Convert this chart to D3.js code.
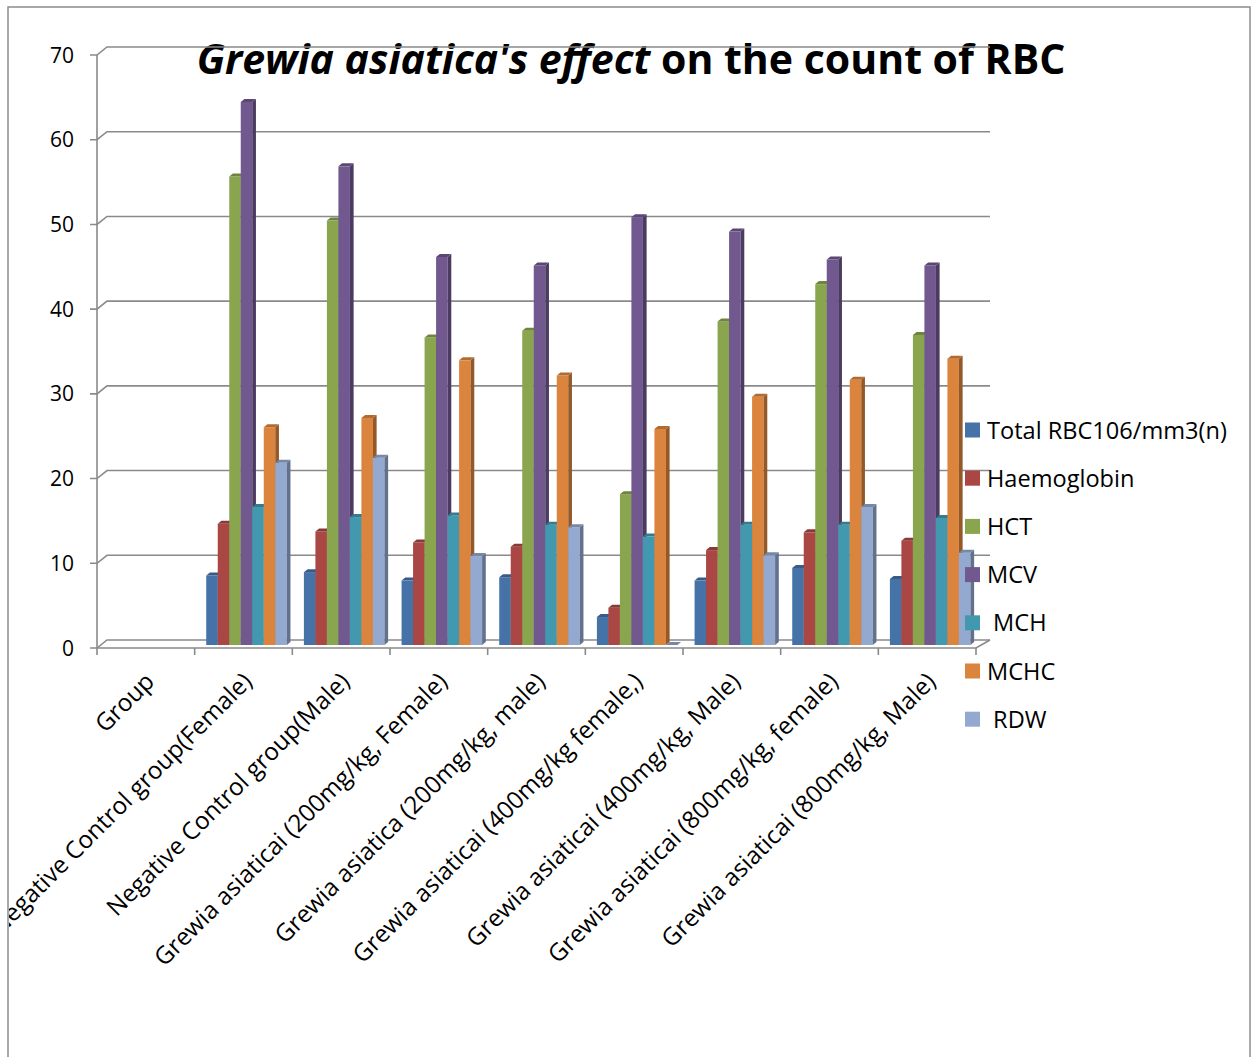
<!DOCTYPE html>
<html>
<head>
<meta charset="utf-8">
<script src="https://cdn.jsdelivr.net/npm/d3@7"></script>
<style>
  html, body { margin: 0; padding: 0; background: #ffffff; }
  svg { display: block; font-family: "Open Sans", Lato, "Liberation Sans", sans-serif; }
</style>
</head>
<body>
<svg id="chart" width="1258" height="1057"></svg>
<script>
// ---- data ----
const categories = [
  "Group",
  "Negative Control group(Female)",
  "Negative Control group(Male)",
  "Grewia asiaticai (200mg/kg, Female)",
  "Grewia asiatica (200mg/kg, male)",
  "Grewia asiaticai (400mg/kg female,)",
  "Grewia asiaticai (400mg/kg, Male)",
  "Grewia asiaticai (800mg/kg, female)",
  "Grewia asiaticai (800mg/kg, Male)"
];
const seriesNames = ["Total RBC106/mm3(n)", "Haemoglobin", "HCT", "MCV", " MCH", "MCHC", " RDW"];
const totalRBC    = [null, 8.2, 8.6, 7.6, 8.0, 3.3, 7.6, 9.1, 7.8];
const haemoglobin = [null, 14.3, 13.4, 12.1, 11.6, 4.4, 11.2, 13.3, 12.3];
const hct         = [null, 55.3, 50.1, 36.3, 37.1, 17.8, 38.2, 42.6, 36.6];
const mcv         = [null, 64.1, 56.5, 45.8, 44.8, 50.5, 48.8, 45.5, 44.8];
const mch         = [null, 16.3, 15.1, 15.3, 14.2, 12.8, 14.2, 14.2, 15.0];
const mchc        = [null, 25.7, 26.8, 33.6, 31.8, 25.5, 29.3, 31.3, 33.8];
const rdw         = [null, 21.5, 22.1, 10.5, 13.9, 0, 10.6, 16.3, 10.9];
const yTicks = [0, 10, 20, 30, 40, 50, 60, 70];
const seriesColors = ["#4572A7", "#AA4643", "#89A54E", "#71588F", "#4198AF", "#DB843D", "#93A9CF"];

const seriesValues = [totalRBC, haemoglobin, hct, mcv, mch, mchc, rdw];

// ---- layout ----
const svg = d3.select("#chart");
const H = 1057;

const x = d3.scaleBand().domain(categories).range([97, 976]);
const y = d3.scaleLinear().domain([0, 70]).range([648, 55]);
const inner = d3.scaleBand().domain(d3.range(seriesNames.length))
  .range([0, x.bandwidth()]).paddingInner(0).paddingOuter(0.745);

// 3D offsets: back wall, bar front plane, bar depth
const wall = { dx: 10, dy: -8 };
const barOff = { dx: 3, dy: -3 };
const depth = { dx: 3.7, dy: -3 };

const gridColor = "#8a8a8a";

// scale a text element's font size so it spans a given width
function fitWidth(sel, target) {
  const w = sel.node().getComputedTextLength();
  const fs = +sel.attr("font-size");
  return fs * target / w;
}

// outer chart frame
svg.append("rect")
  .attr("x", 8).attr("y", 7)
  .attr("width", 1242).attr("height", 1100)
  .attr("fill", "none").attr("stroke", "#8c8c8c").attr("stroke-width", 1.5);

svg.append("defs").append("clipPath").attr("id", "frameClip")
  .append("rect").attr("x", 9).attr("y", 8).attr("width", 1240).attr("height", H);

const root = svg.append("g").attr("clip-path", "url(#frameClip)");

// title
const title = root.append("text")
  .attr("x", 631).attr("y", 74)
  .attr("text-anchor", "middle")
  .attr("font-size", 35).attr("font-weight", "bold").attr("fill", "#000");
title.append("tspan").attr("font-style", "italic").text("Grewia asiatica's effect");
title.append("tspan").text(" on the count of RBC");
title.attr("font-size", fitWidth(title, 869));

// gridlines on the side and back walls, with front ticks
const grid = root.append("g");
grid.selectAll("path.grid").data(yTicks).join("path")
  .attr("class", "grid")
  .attr("d", v => {
    const yy = y(v);
    return `M90,${yy}L${x.range()[0]},${yy}L${x.range()[0] + wall.dx},${yy + wall.dy}L${x.range()[1] + 14},${yy + wall.dy}`;
  })
  .attr("fill", "none").attr("stroke", gridColor).attr("stroke-width", 1.6);

// value axis line
grid.append("line")
  .attr("x1", x.range()[0]).attr("x2", x.range()[0])
  .attr("y1", y(70)).attr("y2", y(0))
  .attr("stroke", gridColor).attr("stroke-width", 1.6);

// floor front edge and right corner
grid.append("path")
  .attr("d", `M${x.range()[0]},${y(0)}L${x.range()[1]},${y(0)}L${x.range()[1] + 14},${y(0) + wall.dy}`)
  .attr("fill", "none").attr("stroke", gridColor).attr("stroke-width", 1.6);

// category ticks
const catEdges = categories.map(c => x(c)).concat([x.range()[1]]);
grid.selectAll("line.ctick").data(catEdges).join("line")
  .attr("class", "ctick")
  .attr("x1", d => d).attr("x2", d => d)
  .attr("y1", y(0)).attr("y2", y(0) + 7)
  .attr("stroke", gridColor).attr("stroke-width", 1.6);

// value tick labels
root.append("g").selectAll("text").data(yTicks).join("text")
  .attr("x", 74).attr("y", v => y(v))
  .attr("dy", "0.36em")
  .attr("text-anchor", "end")
  .attr("font-size", 21).attr("fill", "#000")
  .text(v => v);

// category labels, rotated
const catLabels = root.append("g").selectAll("text").data(categories).join("text")
  .attr("text-anchor", "end")
  .attr("font-size", 20).attr("fill", "#000")
  .attr("transform", c => `translate(${x(c) + x.bandwidth() / 2 + 10},${y(0) + 35}) rotate(-45)`)
  .text(c => c);
const catSize = fitWidth(catLabels.filter((d, i) => i === categories.length - 1), 376);
catLabels.attr("font-size", catSize);

// bars drawn left to right: front, side, top faces
const bars = [];
categories.forEach((c, ci) => {
  seriesValues.forEach((vals, si) => {
    const v = vals[ci];
    if (v === null || v === undefined) return;
    bars.push({ c, si, v });
  });
});

const barG = root.append("g");
const gBar = barG.selectAll("g.bar").data(bars).join("g").attr("class", "bar");

gBar.each(function (d) {
  const g = d3.select(this);
  const x0 = x(d.c) + inner(d.si) + barOff.dx;
  const w = inner.bandwidth();
  const yb = y(0) + barOff.dy;
  const yt = y(d.v) + barOff.dy;
  const base = d3.color(seriesColors[d.si]);
  g.append("rect")
    .attr("x", x0).attr("y", yt).attr("width", w).attr("height", Math.max(0, yb - yt))
    .attr("fill", base.formatHex());
  g.append("path")
    .attr("d", `M${x0 + w},${yt}L${x0 + w + depth.dx},${yt + depth.dy}L${x0 + w + depth.dx},${yb + depth.dy}L${x0 + w},${yb}Z`)
    .attr("fill", base.darker(1.1).formatHex());
  g.append("path")
    .attr("d", `M${x0},${yt}L${x0 + depth.dx},${yt + depth.dy}L${x0 + w + depth.dx},${yt + depth.dy}L${x0 + w},${yt}Z`)
    .attr("fill", base.darker(0.6).formatHex());
});

// legend
const legend = root.append("g");
const leg = legend.selectAll("g").data(seriesNames).join("g")
  .attr("transform", (d, i) => `translate(965,${430 + i * 48.2})`);
leg.append("rect")
  .attr("x", 0).attr("y", -7.5).attr("width", 15).attr("height", 15)
  .attr("fill", (d, i) => seriesColors[i]);
const legText = leg.append("text")
  .attr("x", 22).attr("y", 0).attr("dy", "0.36em")
  .attr("font-size", 21).attr("fill", "#000")
  .style("white-space", "pre")
  .text(d => d);
legText.attr("font-size", fitWidth(legText.filter((d, i) => i === 0), 240));
</script>
</body>
</html>
